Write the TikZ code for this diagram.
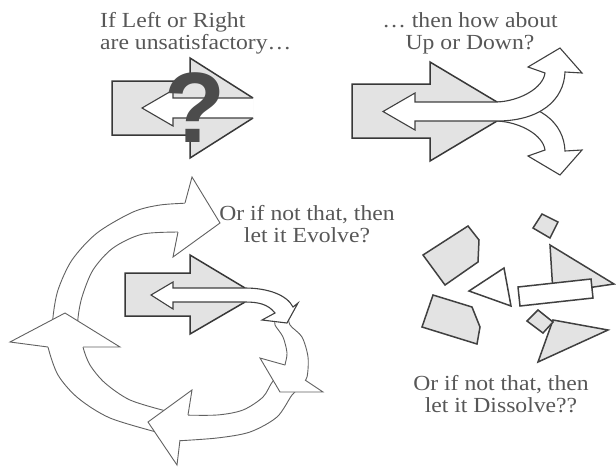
\documentclass[tikz,border=0pt]{standalone}
\usepackage{fontspec}
\setmainfont{Liberation Serif}
\setsansfont{Liberation Sans}
\newfontfamily\captionfont[FakeStretch=1.1]{Liberation Serif}

\begin{document}
\begin{tikzpicture}[x=1pt,y=-1pt,line join=miter,
  blockarrow/.style={draw=black!78,fill=black!11,line width=1.5pt},
  whitearrow/.style={draw=black!75,fill=white,line width=1.1pt},
  ring/.style={draw=black!62,fill=white,line width=0.9pt},
  shard/.style={draw=black!75,fill=black!11,line width=1.5pt},
  emptyshard/.style={draw=black!75,fill=white,line width=1.5pt},
  caption/.style={text=black!66,font=\captionfont\fontsize{21.5}{22}\selectfont,inner sep=0pt,align=center}]

\useasboundingbox (0,0) rectangle (616,467);

\node[caption,anchor=north west,align=left](leftright) at (100,12.5){If Left or Right\\are unsatisfactory…};
\node[caption,anchor=north](updown) at (470,12.5){… then how about\\Up or Down?};
\node[caption,anchor=north](evolve) at (307,205.5){Or if not that, then\\let it Evolve?};
\node[caption,anchor=north](dissolve) at (501,375.5){Or if not that, then\\let it Dissolve??};

\filldraw[blockarrow] (253,98) -- (190,58) -- (190,81) -- (112,81) -- (112,135) -- (190,135) -- (190,158) -- (253,118);
\filldraw[whitearrow] (253,98) -- (173,98) -- (173,90) -- (142,108) -- (173,126) -- (173,118) -- (253,118);
\node[text=black!70,font=\sffamily\bfseries\fontsize{100}{100}\selectfont,inner sep=0pt](qmark) at (195,108){?};

\filldraw[blockarrow] (497,102) -- (430,62) -- (430,84) -- (352,84) -- (352,138) -- (430,138) -- (430,161) -- (497,121);
\filldraw[whitearrow] (497,121) .. controls (520,122) and (543,135) .. (545,150) -- (528,156) -- (560,175) -- (582,150) -- (565,151) .. controls (564,123) and (540,102) .. (497,102);
\filldraw[whitearrow] (497,121) -- (415,121) -- (415,130) -- (383,111.5) -- (415,93) -- (415,102) -- (497,102) .. controls (520,101) and (543,88) .. (545,73) -- (528,67) -- (560,48) -- (582,73) -- (565,72) .. controls (564,100) and (540,121) .. (497,121) -- cycle;

\filldraw[ring] plot[smooth] coordinates {(53,335) (53,317) (58,290) (72,260) (97,233) (133,212) (160,205) (190,203)} -- plot[smooth] coordinates {(185,232) (143,234) (113,248) (93,270) (82,297) (78,318) (78,335)} -- cycle;
\filldraw[ring] plot[smooth] coordinates {(48,335) (48,347) (58,375) (78,398) (110,418) (160,433)} -- plot[smooth] coordinates {(166,411) (130,400) (105,383) (90,365) (83,347) (83,335)} -- cycle;
\filldraw[ring] plot[smooth] coordinates {(300,388) (292,395) (277,417) (250,432) (217,438) (175,441)} -- plot[smooth] coordinates {(180,415) (217,415) (243,410) (263,397) (273,381) (284,375)} -- cycle;
\filldraw[ring] plot[smooth] coordinates {(275,318) (275,325) (283,337) (287,353) (285,365) (284,375)} -- plot[smooth] coordinates {(301,386) (307,377) (308,357) (302,337) (290,325) (288,314)} -- cycle;

\filldraw[blockarrow] (245,288) -- (190,255) -- (190,273) -- (125,273) -- (125,316) -- (190,316) -- (190,334) -- (245,302);
\filldraw[whitearrow] (245,302) -- (173,302) -- (173,309) -- (151,295) -- (173,282) -- (173,288) -- (245,288) .. controls (268,288) and (287,295) .. (293,307) -- (298,303) -- (287,323) -- (262,320) -- (275,313) .. controls (268,304) and (258,302) .. (245,302) -- cycle;

\filldraw[ring] (48,347) -- (10,342) -- (65,313) -- (120,347) -- (83,347);
\filldraw[ring] (185,203) -- (192,177) -- (220,223) -- (173,257) -- (178,232);
\filldraw[ring] (188,415) -- (192,390) -- (148,422) -- (177,465) -- (180,440);
\filldraw[ring] (285,365) -- (260,358) -- (280,392) -- (323,392) -- (305,380);

\filldraw[shard] (423,255) -- (468,226) -- (479,240) -- (478,262) -- (445,285) -- cycle;
\filldraw[shard] (533,228) -- (542,214) -- (558,222) -- (550,238) -- cycle;
\filldraw[shard] (550,245) -- (614,284) -- (553,293) -- cycle;
\filldraw[emptyshard] (518,287) -- (591,279) -- (593,298) -- (520,306) -- cycle;
\filldraw[emptyshard] (469,291) -- (504,268) -- (511,306) -- cycle;
\filldraw[shard] (433,295) -- (472,307) -- (480,327) -- (477,344) -- (422,327) -- cycle;
\filldraw[shard] (553,320) -- (608,330) -- (538,362) -- cycle;
\filldraw[shard] (527,321) -- (538,310) -- (553,322) -- (543,333) -- cycle;

\end{tikzpicture}
\end{document}
